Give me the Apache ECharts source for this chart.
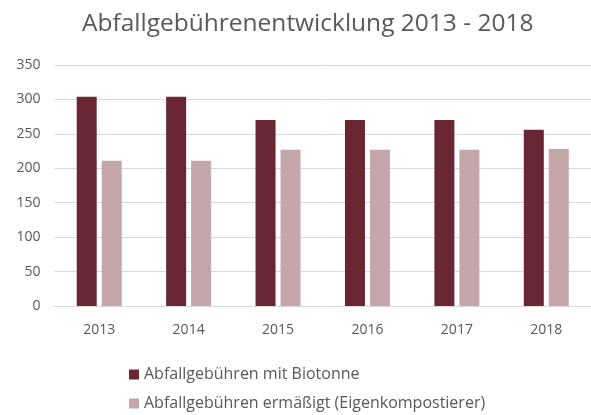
<!doctype html>
<html lang="de">
<head>
    <meta charset="utf-8">
    <title>Abfallgebührenentwicklung 2013 - 2018</title>
    <script src="https://cdn.jsdelivr.net/npm/echarts@6/dist/echarts.min.js"></script>
    <style>
        html, body {margin: 0; padding: 0; background: #fff;}
        #chart {width: 591px; height: 415px;}
    </style>
</head>
<body>
<div id="chart"></div>
<script>
    const years = ['2013', '2014', '2015', '2016', '2017', '2018'];
    const mitBiotonne = [304, 304, 270, 270, 270, 256];
    const ermaessigt = [211, 211, 227, 227, 227, 228];
    const yTicks = [0, 50, 100, 150, 200, 250, 300, 350];

    const font = '"Open Sans", Lato, sans-serif';
    let chart = echarts.init(document.getElementById('chart'));

    chart.setOption({
        animation: false,
        title: {
            text: 'Abfallgebührenentwicklung 2013 - 2018',
            left: 77,
            top: 7,
            textStyle: {color: '#595959', fontSize: 24.5, fontWeight: 'normal', fontFamily: font}
        },
        legend: {
            orient: 'vertical',
            left: 124,
            top: 361,
            height: 80,
            itemWidth: 10,
            itemHeight: 10,
            itemGap: 12,
            icon: 'rect',
            textStyle: {color: '#595959', fontSize: 16, lineHeight: 17, fontFamily: font},
            data: ['Abfallgebühren mit Biotonne', 'Abfallgebühren ermäßigt (Eigenkompostierer)']
        },
        grid: {left: 54.5, top: 65, width: 540, height: 241},
        xAxis: {
            type: 'category',
            data: years,
            axisLine: {lineStyle: {color: '#d9d9d9'}},
            axisTick: {show: false},
            axisLabel: {color: '#595959', fontSize: 14, margin: 17, fontFamily: font}
        },
        yAxis: {
            type: 'value',
            min: yTicks[0],
            max: yTicks[yTicks.length - 1],
            interval: 50,
            axisLabel: {color: '#595959', fontSize: 14, margin: 14, fontFamily: font},
            splitLine: {lineStyle: {color: '#d9d9d9'}}
        },
        series: [{
            name: 'Abfallgebühren mit Biotonne',
            type: 'bar',
            data: mitBiotonne,
            barWidth: 20,
            barGap: '25%',
            itemStyle: {color: '#6b2634'}
        }, {
            name: 'Abfallgebühren ermäßigt (Eigenkompostierer)',
            type: 'bar',
            data: ermaessigt,
            barWidth: 20,
            itemStyle: {color: '#c4a6ab'}
        }]
    });
</script>
</body>
</html>
